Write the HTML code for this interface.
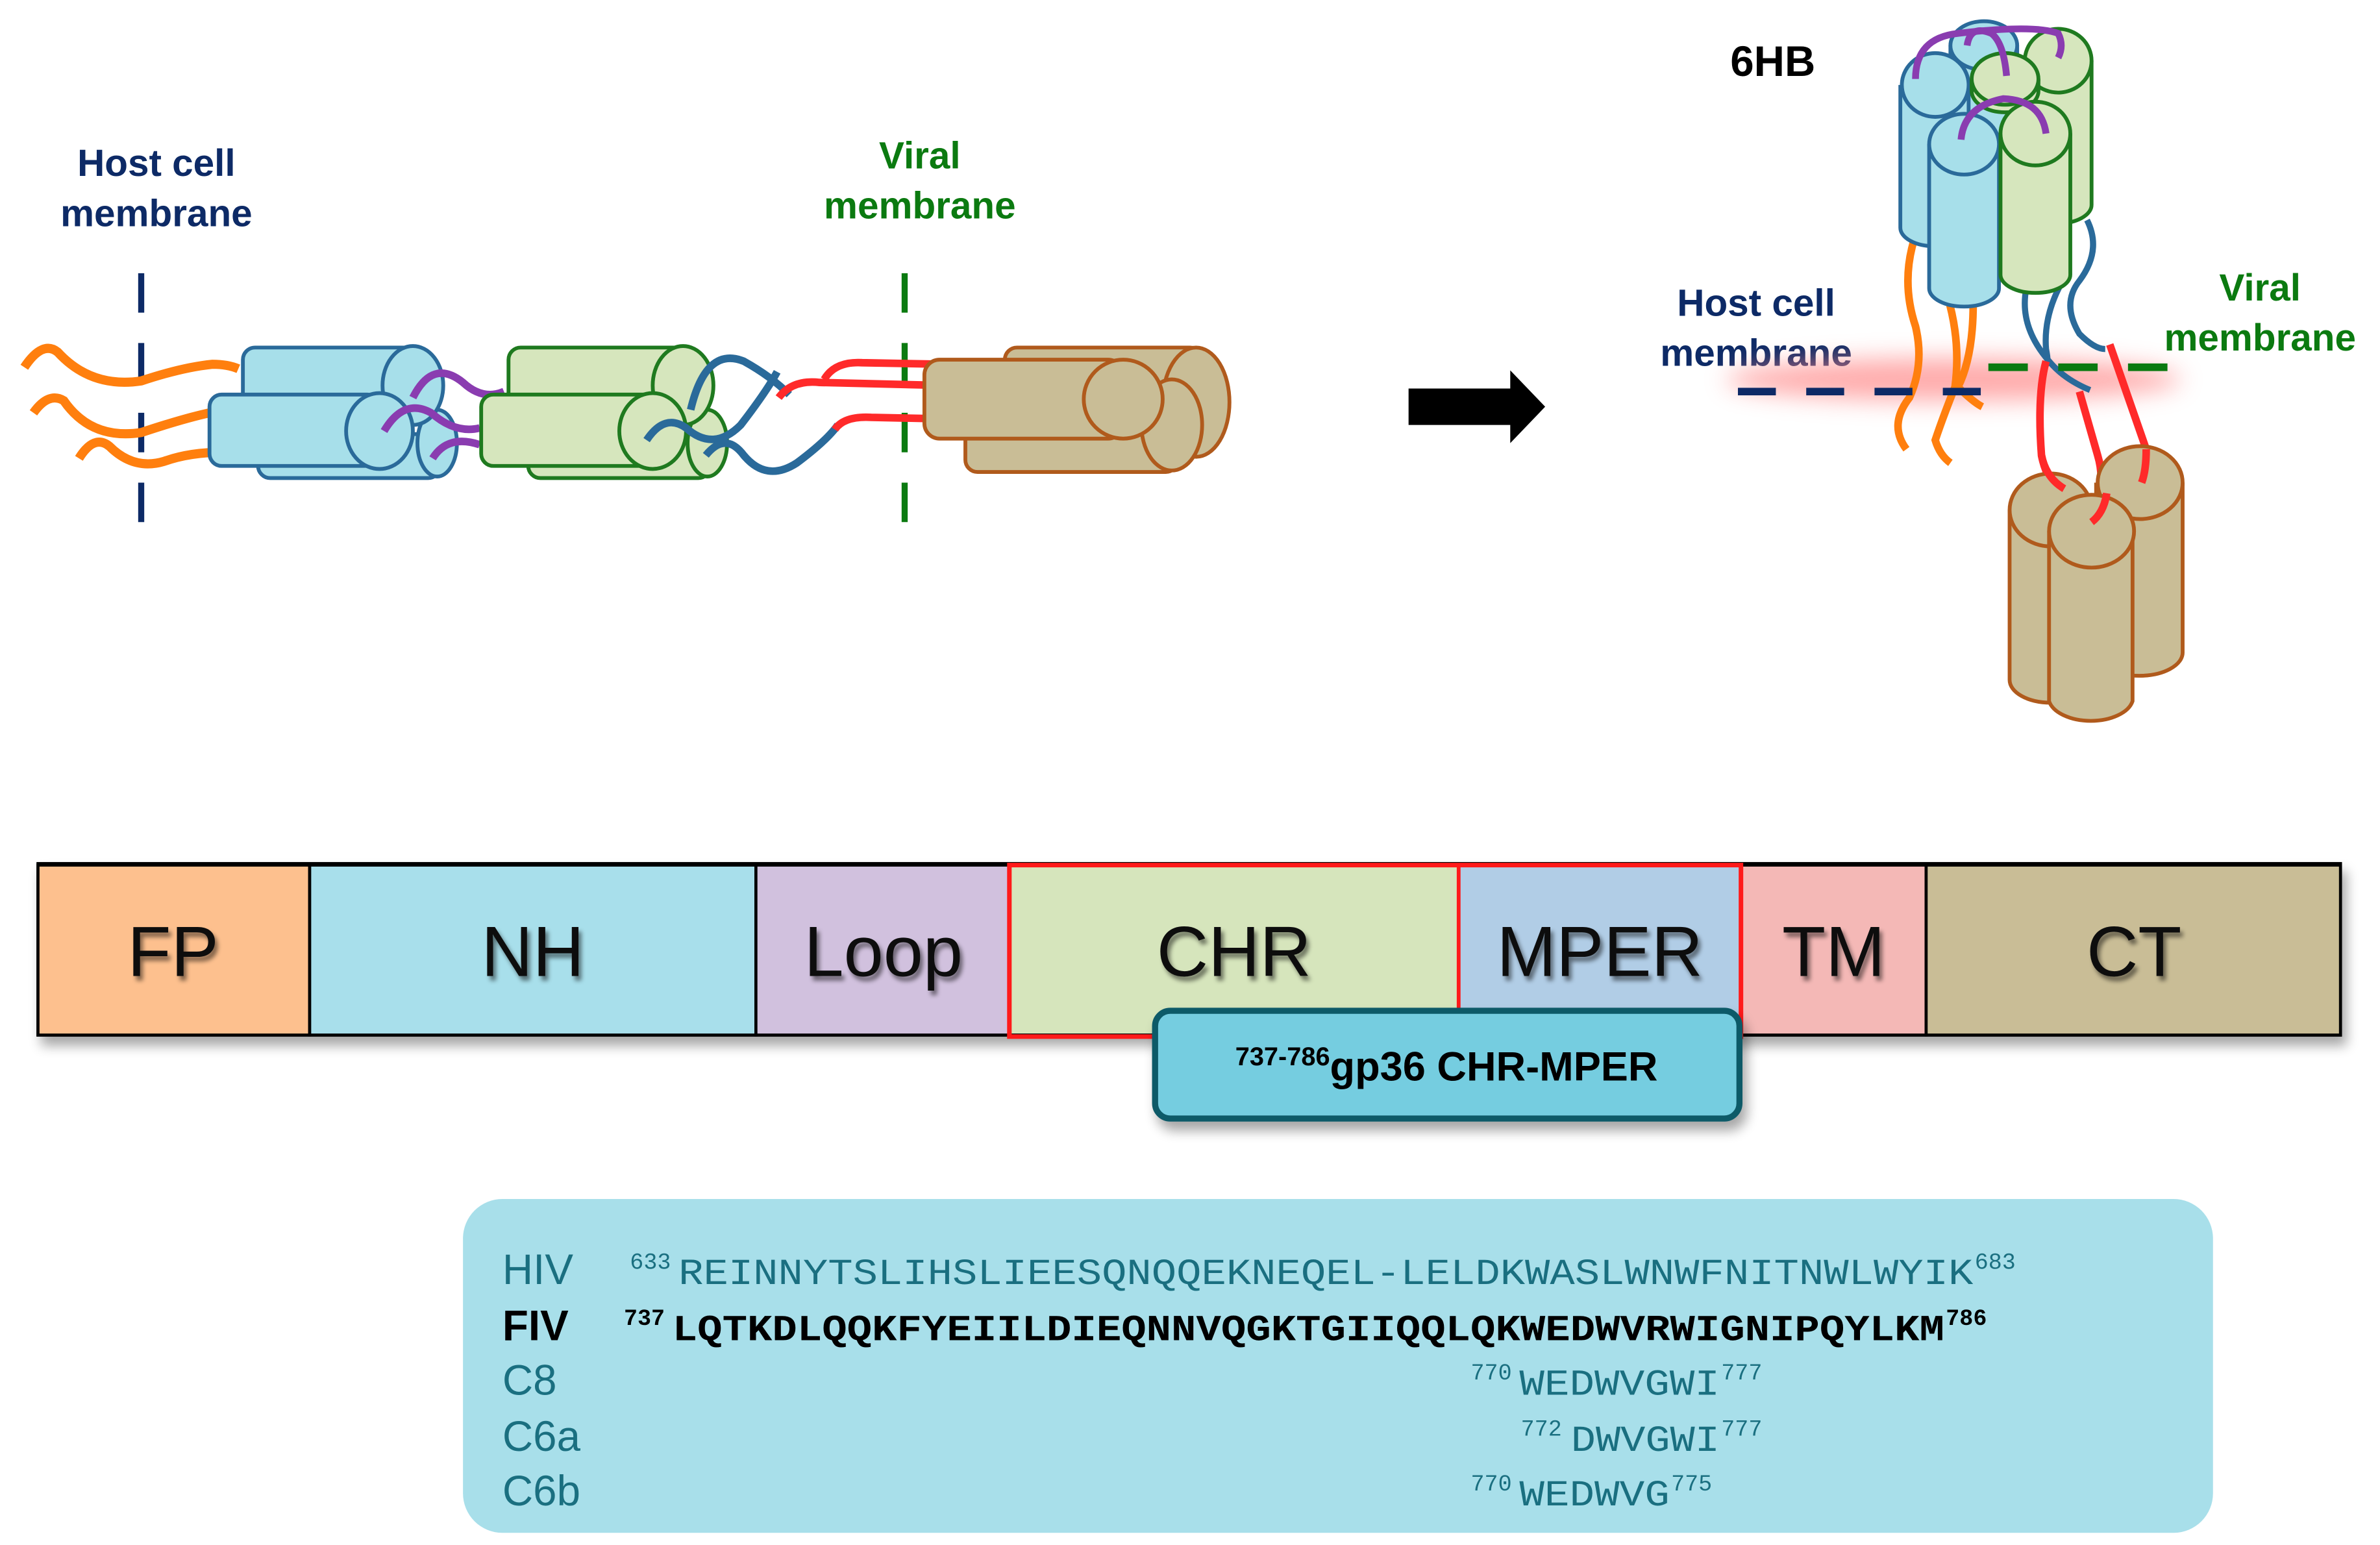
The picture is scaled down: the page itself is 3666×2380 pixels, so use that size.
<!DOCTYPE html>
<html><head><meta charset="utf-8"><style>
html,body{margin:0;padding:0;background:#fff;}
svg{display:block;}
text{font-family:"Liberation Sans",sans-serif;}
.mono text{font-family:"Liberation Mono",monospace;}
</style></head><body>
<svg width="3666" height="2380" viewBox="0 0 1568 1018" xmlns="http://www.w3.org/2000/svg">
<defs>
<filter id="glow" x="-20%" y="-100%" width="140%" height="300%"><feGaussianBlur stdDeviation="8"/></filter>
<filter id="sh" x="-5%" y="-20%" width="110%" height="150%"><feGaussianBlur in="SourceAlpha" stdDeviation="4"/><feOffset dx="3" dy="6"/><feComponentTransfer><feFuncA type="linear" slope="0.35"/></feComponentTransfer><feMerge><feMergeNode/><feMergeNode in="SourceGraphic"/></feMerge></filter>
<filter id="ts"><feGaussianBlur in="SourceAlpha" stdDeviation="1.5"/><feOffset dx="2" dy="3"/><feComponentTransfer><feFuncA type="linear" slope="0.5"/></feComponentTransfer><feMerge><feMergeNode/><feMergeNode in="SourceGraphic"/></feMerge></filter>
</defs>

<g font-weight="bold" font-size="25" text-anchor="middle">
<text x="103" y="116" fill="#0d2a66">Host cell</text>
<text x="103" y="149" fill="#0d2a66">membrane</text>
<text x="606" y="111" fill="#0b7a10">Viral</text>
<text x="606" y="144" fill="#0b7a10">membrane</text>
</g>
<line x1="93" y1="180" x2="93" y2="345" stroke="#0d2a66" stroke-width="4" stroke-dasharray="26,20"/>
<line x1="596" y1="180" x2="596" y2="345" stroke="#0b7a10" stroke-width="4" stroke-dasharray="26,20"/>

<g fill="none" stroke="#ff7f0e" stroke-width="6">
<path d="M16 242 Q28 224 38 232 Q60 256 93 251 Q120 242 140 240 Q150 240 157 243"/>
<path d="M22 272 Q32 258 42 264 Q60 290 93 285 Q120 276 138 272"/>
<path d="M52 302 Q62 286 72 294 Q88 310 108 304 Q125 298 146 298"/>
</g>

<g stroke="#2a6a9a" stroke-width="2.5" fill="#a7dfea">
<rect x="170" y="286" width="120" height="29" rx="8"/><ellipse cx="288" cy="292" rx="13" ry="22"/>
<rect x="160" y="229" width="118" height="47" rx="8"/><ellipse cx="272" cy="254" rx="20" ry="26"/>
<rect x="138" y="260" width="112" height="47" rx="8"/><ellipse cx="250" cy="284" rx="22" ry="25"/>
</g>
<g fill="none" stroke="#8a3cb0" stroke-width="5">
<path d="M272 262 Q285 236 305 252 Q318 264 332 258"/>
<path d="M253 284 Q266 262 284 272 Q300 286 316 282"/>
<path d="M285 302 Q295 286 316 293"/>
</g>
<g stroke="#1f7a1f" stroke-width="2.5" fill="#d6e6bd">
<rect x="348" y="286" width="120" height="29" rx="8"/><ellipse cx="466" cy="292" rx="13" ry="22"/>
<rect x="335" y="229" width="120" height="47" rx="8"/><ellipse cx="450" cy="254" rx="20" ry="26"/>
<rect x="317" y="260" width="117" height="47" rx="8"/><ellipse cx="430" cy="284" rx="22" ry="25"/>
</g>
<g fill="none" stroke="#2a6a9a" stroke-width="5">
<path d="M455 270 Q465 228 490 238 Q508 248 520 260"/>
<path d="M426 290 Q438 272 452 282 Q470 298 488 280 Q505 258 512 245"/>
<path d="M465 300 Q478 284 490 300 Q505 318 525 305 Q545 290 552 280"/>
</g>
<g fill="none" stroke="#ff2a2a" stroke-width="5">
<path d="M543 250 Q550 238 568 239 L622 240"/>
<path d="M513 262 Q522 250 540 252 L622 254"/>
<path d="M550 283 Q556 274 574 275 L622 276"/>
</g>
<g stroke="#b05a1c" stroke-width="2.5" fill="#c9bd96">
<rect x="662" y="229" width="130" height="49" rx="8"/><ellipse cx="788" cy="265" rx="22" ry="36"/>
<rect x="636" y="262" width="140" height="49" rx="8"/><ellipse cx="772" cy="280" rx="20" ry="30"/>
<rect x="609" y="237" width="131" height="52" rx="10"/><ellipse cx="740" cy="263" rx="26" ry="26"/>
</g>

<polygon points="928,256 995,256 995,244 1018,268 995,292 995,280 928,280" fill="#000"/>

<text x="1168" y="50" font-weight="bold" font-size="28" text-anchor="middle" fill="#000">6HB</text>
<g font-weight="bold" font-size="25" text-anchor="middle">
<text x="1157" y="208" fill="#0d2a66">Host cell</text>
<text x="1157" y="241" fill="#0d2a66">membrane</text>
<text x="1489" y="198" fill="#0b7a10">Viral</text>
<text x="1489" y="231" fill="#0b7a10">membrane</text>
</g>
<ellipse cx="1287" cy="250" rx="150" ry="14" fill="#ff8888" opacity="0.7" filter="url(#glow)"/>

<g fill="none" stroke="#ff7f0e" stroke-width="5">
<path d="M1262 155 Q1252 185 1262 215 Q1268 240 1258 262 Q1244 280 1256 296"/>
<path d="M1283 195 Q1292 225 1288 255 Q1280 275 1275 290 Q1278 300 1285 305"/>
<path d="M1300 200 Q1300 235 1290 255 Q1300 265 1306 268"/>
</g>
<g fill="none" stroke="#2a6a9a" stroke-width="4">
<path d="M1335 190 Q1330 215 1350 238 Q1360 250 1377 257"/>
<path d="M1362 180 Q1346 205 1348 230 Q1350 240 1348 240"/>
<path d="M1375 145 Q1385 165 1370 185 Q1358 200 1370 220 Q1380 230 1387 230"/>
</g>
<line x1="1145" y1="258" x2="1310" y2="258" stroke="#0d2a66" stroke-width="5" stroke-dasharray="25,20"/>
<line x1="1310" y1="242" x2="1430" y2="242" stroke="#0b7a10" stroke-width="5" stroke-dasharray="26,20"/>

<g stroke-width="2.5">
<g stroke="#2a6a9a" fill="#a7dfea">
<path d="M1285 30 V130 A22 10 0 0 0 1329 130 V30"/><ellipse cx="1307" cy="30" rx="22" ry="16"/>
<path d="M1252 56 V150 A22 12 0 0 0 1297 150 V56"/><ellipse cx="1275" cy="56" rx="22" ry="21"/>
</g>
<g stroke="#1f7a1f" fill="#d6e6bd">
<path d="M1333 40 V135 A22 12 0 0 0 1378 135 V40"/><ellipse cx="1356" cy="40" rx="22" ry="21"/>
<path d="M1299 52 V60 A22 14 0 0 0 1343 60 V52"/><ellipse cx="1321" cy="52" rx="22" ry="17"/>
</g>
<g stroke="#2a6a9a" fill="#a7dfea">
<path d="M1271 95 V190 A23 12 0 0 0 1317 190 V95"/><ellipse cx="1294" cy="95" rx="23" ry="20"/>
</g>
<g stroke="#1f7a1f" fill="#d6e6bd">
<path d="M1318 88 V181 A23 12 0 0 0 1364 181 V88"/><ellipse cx="1341" cy="88" rx="23" ry="21"/>
</g>
</g>
<g fill="none" stroke="#8a3cb0" stroke-width="4.5">
<path d="M1262 52 Q1262 25 1290 22 Q1340 16 1356 22 Q1360 30 1356 38"/>
<path d="M1296 30 Q1298 16 1312 22 Q1320 28 1322 50"/>
<path d="M1292 92 Q1294 70 1320 65 Q1345 66 1348 88"/>
</g>
<g fill="none" stroke="#ff2a2a" stroke-width="5">
<path d="M1348 238 Q1342 260 1345 300 Q1348 315 1355 320"/>
<path d="M1370 258 L1382 300 Q1388 320 1378 338"/>
<path d="M1390 227 L1414 296 Q1415 310 1412 312"/>
</g>
<g stroke="#b05a1c" stroke-width="2.5" fill="#c9bd96">
<path d="M1381 318 V430 A28 15 0 0 0 1438 430 V318"/><ellipse cx="1410" cy="318" rx="28" ry="24"/>
<path d="M1324 336 V448 A27 15 0 0 0 1378 448 V336"/><ellipse cx="1351" cy="336" rx="27" ry="24"/>
<path d="M1350 350 V462 A28 16 0 0 0 1405 462 V350"/><ellipse cx="1378" cy="350" rx="28" ry="24"/>
</g>
<g fill="none" stroke="#ff2a2a" stroke-width="5">
<path d="M1345 300 Q1348 315 1360 322"/>
<path d="M1388 325 Q1386 338 1378 344"/>
<path d="M1414 296 Q1414 310 1411 318"/>
</g>

<g filter="url(#sh)">
<rect x="24" y="568" width="1519" height="115" fill="#000"/>
</g>
<g stroke="#000" stroke-width="2">
<rect x="25" y="570" width="179" height="112" fill="#fdc08e"/>
<rect x="204" y="570" width="294" height="112" fill="#a8dfeb"/>
<rect x="498" y="570" width="167" height="112" fill="#d1c1de"/>
<rect x="665" y="570" width="296" height="112" fill="#d6e5bc"/>
<rect x="961" y="570" width="186" height="112" fill="#b1cde6"/>
<rect x="1147" y="570" width="122" height="112" fill="#f4b8b6"/>
<rect x="1269" y="570" width="273" height="112" fill="#c9bd96"/>
</g>
<rect x="665" y="570" width="482" height="113" fill="none" stroke="#ff1a1a" stroke-width="3"/>
<line x1="961" y1="570" x2="961" y2="682" stroke="#ff1a1a" stroke-width="2.5"/>
<g font-size="47" text-anchor="middle" fill="#111" filter="url(#ts)">
<text x="114" y="643">FP</text>
<text x="351" y="643">NH</text>
<text x="582" y="643">Loop</text>
<text x="813" y="643">CHR</text>
<text x="1054" y="643">MPER</text>
<text x="1208" y="643">TM</text>
<text x="1406" y="643">CT</text>
</g>
<g filter="url(#sh)">
<rect x="761" y="666" width="385" height="71" rx="10" fill="#74cde0" stroke="#0e5a68" stroke-width="4"/>
</g>
<text x="953" y="712" font-weight="bold" font-size="27" text-anchor="middle" fill="#000"><tspan font-size="17" dy="-10">737-786</tspan><tspan dy="10">gp36 CHR-MPER</tspan></text>

<rect x="305" y="790" width="1153" height="220" rx="26" fill="#a8dfea"/>
<g font-size="28" fill="#1a6f80">
<text x="331" y="846">HIV</text>
<text x="331" y="883" fill="#000" font-weight="bold">FIV</text>
<text x="331" y="919">C8</text>
<text x="331" y="956">C6a</text>
<text x="331" y="992">C6b</text>
</g>
<g class="mono" fill="#1a6f80" font-size="24">
<text x="415" y="836" font-size="15">633</text>
<text x="447" y="846" textLength="853" lengthAdjust="spacingAndGlyphs">REINNYTSLIHSLIEESQNQQEKNEQEL-LELDKWASLWNWFNITNWLWYIK</text>
<text x="1301" y="836" font-size="15">683</text>
<g fill="#000" font-weight="bold">
<text x="411" y="873" font-size="15">737</text>
<text x="443" y="883" textLength="838" lengthAdjust="spacingAndGlyphs">LQTKDLQQKFYEIILDIEQNNVQGKTGIIQQLQKWEDWVRWIGNIPQYLKM</text>
<text x="1282" y="873" font-size="15">786</text>
</g>
<text x="969" y="909" font-size="15">770</text>
<text x="1001" y="919" textLength="132" lengthAdjust="spacingAndGlyphs">WEDWVGWI</text>
<text x="1134" y="909" font-size="15">777</text>
<text x="1002" y="946" font-size="15">772</text>
<text x="1035" y="956" textLength="98" lengthAdjust="spacingAndGlyphs">DWVGWI</text>
<text x="1134" y="946" font-size="15">777</text>
<text x="969" y="982" font-size="15">770</text>
<text x="1001" y="992" textLength="99" lengthAdjust="spacingAndGlyphs">WEDWVG</text>
<text x="1101" y="982" font-size="15">775</text>
</g>
</svg>
</body></html>
